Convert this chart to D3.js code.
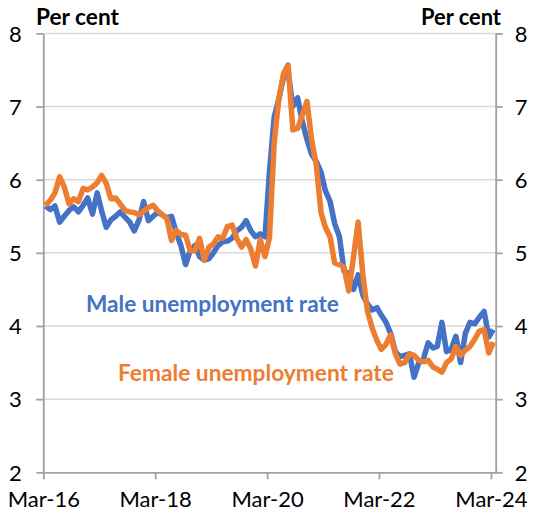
<!DOCTYPE html>
<html>
<head>
<meta charset="utf-8">
<script src="https://cdn.jsdelivr.net/npm/d3@7"></script>
<style>
  body { margin: 0; background: #fff; }
  svg { display: block; font-family: Lato, "Open Sans", sans-serif; }
</style>
</head>
<body>
<div id="chart"></div>
<script>
// monthly, Mar-16 .. Mar-24 (97 obs), per cent
const startYear = 2016, startMonth = 2;
const maleRate = [
  5.64, 5.59, 5.64, 5.42, 5.50, 5.58, 5.63, 5.56, 5.65, 5.75,
  5.53, 5.82, 5.58, 5.35, 5.45, 5.50, 5.56, 5.49, 5.42, 5.30,
  5.45, 5.70, 5.44, 5.50, 5.55, 5.52, 5.48, 5.50, 5.28, 5.10,
  4.84, 5.03, 5.10, 4.95, 4.90, 4.92, 5.00, 5.10, 5.15, 5.16,
  5.20, 5.30, 5.35, 5.44, 5.30, 5.22, 5.26, 5.22, 6.10, 6.85,
  7.10, 7.40, 7.48, 7.00, 7.12, 6.80, 6.55, 6.35, 6.25, 6.10,
  5.85, 5.70, 5.40, 5.22, 4.75, 4.72, 4.50, 4.70, 4.42, 4.30,
  4.22, 4.25, 4.15, 4.05, 3.90, 3.65, 3.58, 3.60, 3.62, 3.30,
  3.50, 3.55, 3.77, 3.70, 3.72, 4.05, 3.65, 3.68, 3.86, 3.50,
  3.90, 4.05, 4.03, 4.12, 4.20, 3.85, 3.95
];
const femaleRate = [
  5.65, 5.72, 5.82, 6.04, 5.90, 5.67, 5.74, 5.70, 5.88, 5.86,
  5.90, 5.96, 6.06, 5.95, 5.74, 5.75, 5.67, 5.58, 5.56, 5.55,
  5.52, 5.57, 5.62, 5.65, 5.58, 5.52, 5.47, 5.17, 5.31, 5.25,
  5.24, 5.03, 5.03, 5.20, 4.90, 5.08, 5.12, 5.22, 5.20, 5.36,
  5.38, 5.20, 5.08, 5.18, 5.05, 4.82, 5.18, 4.95, 5.20, 6.50,
  7.10, 7.45, 7.57, 6.68, 6.70, 6.88, 7.07, 6.55, 6.20, 5.55,
  5.35, 5.22, 4.86, 4.84, 4.80, 4.48, 4.95, 5.42, 4.70, 4.20,
  3.97, 3.80, 3.68, 3.75, 3.88, 3.62, 3.48, 3.50, 3.62, 3.60,
  3.53, 3.51, 3.53, 3.44, 3.41, 3.37, 3.50, 3.55, 3.72, 3.60,
  3.67, 3.72, 3.82, 3.93, 3.95, 3.63, 3.78
];
const yTicks = [2, 3, 4, 5, 6, 7, 8];
const xTickLabels = ['Mar-16', 'Mar-18', 'Mar-20', 'Mar-22', 'Mar-24'];
const seriesNames = ['Male unemployment rate', 'Female unemployment rate'];

const width = 533, height = 516;
const margin = { left: 43.3, right: 533 - 495.7, top: 33.4, bottom: 516 - 472.3 };
const blue = '#4472C4', orange = '#ED7D31';
const axisColor = '#a0a0a0', gridColor = '#d9d9d9';

const svg = d3.select('#chart').append('svg')
  .attr('width', width).attr('height', height);

// data sit mid-month, ticks on the first of the month
const monthDate = i => new Date(startYear, startMonth + i, 16);
const x = d3.scaleTime()
  .domain([new Date(startYear, startMonth, 1), new Date(startYear + 8, startMonth + 1, 1)])
  .range([margin.left, width - margin.right]);
const y = d3.scaleLinear()
  .domain([2, 8])
  .range([height - margin.bottom, margin.top]);

const xTickDates = xTickLabels.map((d, k) => new Date(startYear + 2 * k, startMonth, 1));

// gridlines
svg.append('g').selectAll('line')
  .data(yTicks.filter(d => d > 2))
  .enter().append('line')
  .attr('x1', x.range()[0]).attr('x2', x.range()[1])
  .attr('y1', d => y(d)).attr('y2', d => y(d))
  .attr('stroke', gridColor).attr('stroke-width', 1.5);

function styleAxis(g) {
  g.select('.domain').attr('stroke', axisColor).attr('stroke-width', 1.8);
  g.selectAll('.tick line').attr('stroke', axisColor).attr('stroke-width', 1.8);
  g.selectAll('.tick text')
    .attr('fill', '#000')
    .style('font-family', 'Lato, "Open Sans", sans-serif')
    .style('font-size', '22px');
}

const leftAxis = svg.append('g')
  .attr('transform', `translate(${x.range()[0]},0)`)
  .call(d3.axisLeft(y).tickValues(yTicks).tickFormat(d3.format('d')).tickSize(7).tickSizeOuter(0))
  .call(styleAxis);
leftAxis.selectAll('.tick text').attr('x', -28).attr('text-anchor', 'middle').attr('dy', '0.35em');

const rightAxis = svg.append('g')
  .attr('transform', `translate(${x.range()[1]},0)`)
  .call(d3.axisRight(y).tickValues(yTicks).tickFormat(d3.format('d')).tickSize(7).tickSizeOuter(0))
  .call(styleAxis);
rightAxis.selectAll('.tick text').attr('x', 25.5).attr('text-anchor', 'middle').attr('dy', '0.35em');

const bottomAxis = svg.append('g')
  .attr('transform', `translate(0,${y.range()[0]})`)
  .call(d3.axisBottom(x).tickValues(xTickDates).tickFormat((d, k) => xTickLabels[k]).tickSize(7).tickSizeOuter(0))
  .call(styleAxis);
bottomAxis.selectAll('.tick text').attr('y', 0).attr('dy', 0)
  .attr('transform', 'translate(0,35)');

// series
const line = d3.line()
  .x((d, i) => x(monthDate(i)))
  .y(d => y(d));

[[maleRate, blue], [femaleRate, orange]].forEach(([vals, col]) => {
  svg.append('path')
    .datum(vals)
    .attr('d', line)
    .attr('fill', 'none')
    .attr('stroke', col)
    .attr('stroke-width', 5.5)
    .attr('stroke-linejoin', 'round');
});

// fit a text node to a target width
function fit(t, w) {
  const len = t.node().getComputedTextLength();
  const fs = parseFloat(t.style('font-size'));
  t.style('font-size', (fs * w / len) + 'px');
  return t;
}

function label(txt, px, py, col, w) {
  const t = svg.append('text').attr('x', px).attr('y', py).attr('fill', col).text(txt)
    .style('font-weight', 700).style('font-size', '20px');
  return fit(t, w);
}

label('Per cent', 36, 25, '#000', 83);
label('Per cent', 421, 25, '#000', 80);
label(seriesNames[0], 86, 312, blue, 253);
label(seriesNames[1], 118, 381, orange, 276);
</script>
</body>
</html>
